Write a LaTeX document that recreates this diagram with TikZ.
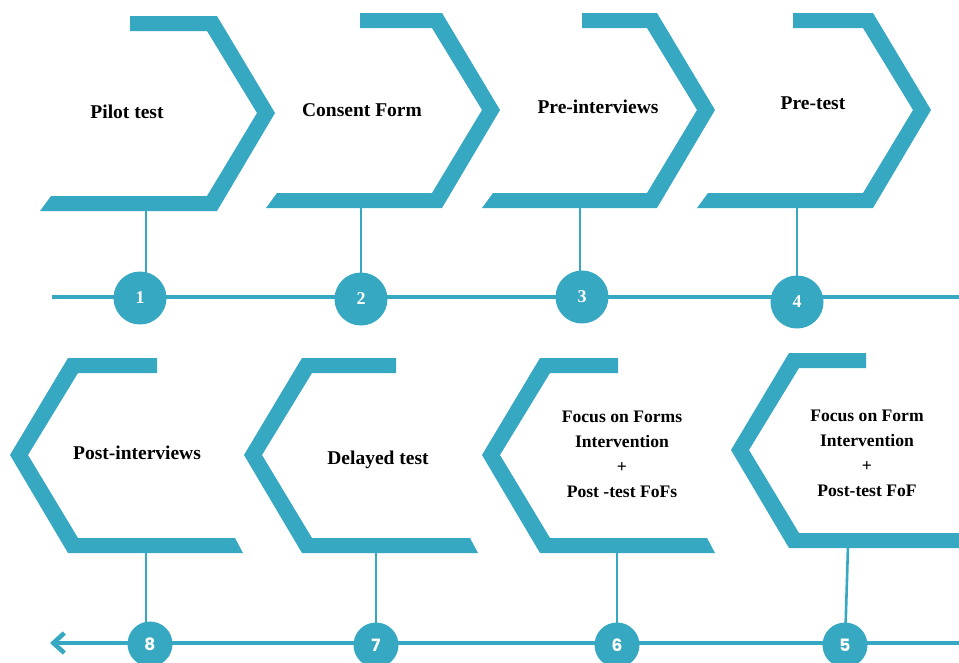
\documentclass[tikz,border=0pt]{standalone}
\usepackage{fontspec}
\setmainfont{Liberation Serif}
\newfontfamily\numsans{Poppins}
\usetikzlibrary{arrows.meta,backgrounds}
\definecolor{tealc}{RGB}{55,168,194}
\newcommand\topchev[4]{%
  \fill[tealc] (#3,#2) -- (#1,#2) -- ({#1+58},{#2+97}) -- (#1,{#2+195}) -- (#4,{#2+195})
   -- ({#4+11},{#2+180}) -- ({#1-10},{#2+180}) -- ({#1+40},{#2+97}) -- ({#1-10},{#2+15}) -- (#3,{#2+15}) -- cycle;}
\newcommand\botchev[4]{%
  \fill[tealc] (#3,#2) -- (#1,#2) -- ({#1-58},{#2+97}) -- (#1,{#2+195}) -- (#4,{#2+195})
   -- ({#4-8},{#2+180}) -- ({#1+10},{#2+180}) -- ({#1-40},{#2+97}) -- ({#1+10},{#2+15}) -- (#3,{#2+15}) -- cycle;}
\begin{document}
\begin{tikzpicture}[x=1pt,y=-1pt,
  lbl/.style={font=\fontsize{19.5}{25}\selectfont\bfseries, align=center, inner sep=0pt},
  lblsm/.style={font=\fontsize{17.6}{25}\selectfont\bfseries, align=center, inner sep=0pt},
  topnum/.style={circle, fill=tealc, minimum size=53pt, inner sep=0pt, text=white, font=\fontsize{18}{18}\selectfont\bfseries},
  botnum/.style={circle, fill=tealc, minimum size=45pt, inner sep=0pt, text=white, font=\numsans\fontsize{17}{17}\selectfont\bfseries},
  link/.style={draw=tealc, line width=2.6pt},
  axis/.style={draw=tealc, line width=4.5pt}]
\clip (0,0) rectangle (959,662);
\useasboundingbox (0,0) rectangle (959,662);
% chevrons
\topchev{217}{16}{130}{40}
\topchev{442}{13}{360}{266}
\topchev{657}{13}{582}{482}
\topchev{873}{13}{793}{697}
\botchev{68}{358}{157}{243}
\botchev{302}{358}{396}{478}
\botchev{540}{358}{618}{715}
\botchev{789}{353}{866}{990}
% anchor coordinates on the bars
\coordinate (b1) at (146,211);
\coordinate (b2) at (361,207);
\coordinate (b3) at (580,207);
\coordinate (b4) at (797,207);
\coordinate (b8) at (146,552);
\coordinate (b7) at (376,552);
\coordinate (b6) at (617,552);
\coordinate (b5) at (848,546);
\coordinate (tL) at (52,297);
\coordinate (tR) at (962,297);
\coordinate (uL) at (50,643);
\coordinate (uR) at (962,643);
% number circles
\node[topnum] (c1) at (140,298) {1};
\node[topnum] (c2) at (361,299) {2};
\node[topnum] (c3) at (582,297) {3};
\node[topnum] (c4) at (797,302) {4};
\node[botnum] (c8) at (150,644) {8};
\node[botnum] (c7) at (376,645) {7};
\node[botnum] (c6) at (617,645) {6};
\node[botnum] (c5) at (845,645) {5};
% labels
\node[lbl] (l1) at (127,112) {Pilot test};
\node[lbl] (l2) at (362,110) {Consent Form};
\node[lbl] (l3) at (598,107) {Pre-interviews};
\node[lbl] (l4) at (813,103) {Pre-test};
\node[lbl] (l8) at (137,453) {Post-interviews};
\node[lbl] (l7) at (378,460) {Delayed test};
\node[lblsm] (l6) at (622,454) {Focus on Forms\\Intervention\\+\\Post -test FoFs};
\node[lblsm] (l5) at (867,453) {Focus on Form\\Intervention\\+\\Post-test FoF};
\begin{scope}[on background layer]
  \fill[white] (0,0) rectangle (959,662);
  \draw[axis] (tL) -- (tR);
  \draw[axis, {Straight Barb[length=11pt,width=20pt,line width=4.5pt]}-] (uL) -- (uR);
  \draw[link] (b1) -- (b1 |- c1.center);
  \draw[link] (b2) -- (b2 |- c2.center);
  \draw[link] (b3) -- (b3 |- c3.center);
  \draw[link] (b4) -- (b4 |- c4.center);
  \draw[link] (b8) -- (b8 |- c8.center);
  \draw[link] (b7) -- (b7 |- c7.center);
  \draw[link] (b6) -- (b6 |- c6.center);
  \draw[link] (b5) -- (c5.center);
\end{scope}
\end{tikzpicture}
\end{document}
